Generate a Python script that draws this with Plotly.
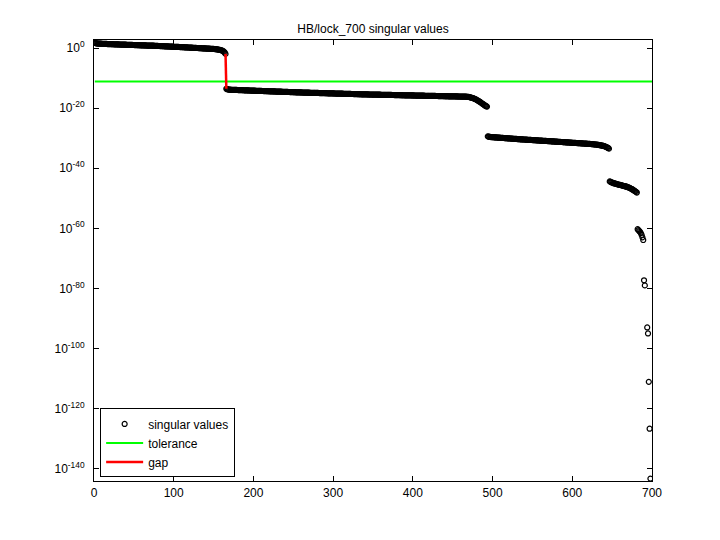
import numpy as np
import plotly.graph_objects as go

# log10 of singular values (index 1..165)
seg1_log = [
    1.70, 1.61, 1.56, 1.52, 1.49, 1.47, 1.46, 1.45, 1.44, 1.42, 1.41, 1.40, 1.39, 1.37, 1.36, 1.35, 1.33,
    1.32, 1.31, 1.30, 1.29, 1.28, 1.27, 1.26, 1.25, 1.24, 1.23,
    1.22, 1.21, 1.20, 1.19, 1.18, 1.17, 1.16, 1.15, 1.14, 1.13,
    1.12, 1.11, 1.10, 1.09, 1.08, 1.07, 1.06, 1.05, 1.04, 1.03,
    1.02, 1.01, 1.00, 0.99, 0.98, 0.97, 0.96, 0.95, 0.94, 0.93,
    0.92, 0.91, 0.90, 0.89, 0.88, 0.87, 0.86, 0.85, 0.84, 0.83,
    0.82, 0.81, 0.80, 0.80, 0.79, 0.78, 0.78, 0.77,
    0.75, 0.74, 0.72, 0.71, 0.70, 0.68, 0.67, 0.66, 0.64, 0.63,
    0.62, 0.60, 0.59, 0.58, 0.56, 0.55, 0.54, 0.52, 0.51, 0.50,
    0.48, 0.47, 0.46, 0.44, 0.43, 0.42, 0.40, 0.39, 0.38, 0.36,
    0.35, 0.34, 0.32, 0.31, 0.30, 0.28, 0.27, 0.26, 0.24, 0.23,
    0.22, 0.20,
    0.18, 0.17, 0.15, 0.14, 0.12, 0.11, 0.09, 0.08, 0.06, 0.04,
    0.03, 0.01, 0.00, -0.02, -0.03, -0.05, -0.06, -0.08, -0.09, -0.11,
    -0.12, -0.14, -0.15, -0.17, -0.18, -0.20, -0.21, -0.23, -0.24, -0.26,
    -0.27, -0.29, -0.31, -0.33,
    -0.36, -0.39, -0.43, -0.47, -0.52, -0.57, -0.63, -0.70, -0.78, -0.88,
    -1.02, -1.22, -1.50, -1.95,
]

# index 166..493
seg2_log = [
    -13.55, -13.70, -13.78, -13.82, -13.85, -13.87, -13.88, -13.90, -13.91, -13.92,
    -13.93, -13.94, -13.95, -13.96, -13.97, -13.98, -13.99, -14.00, -14.01, -14.02,
    -14.03, -14.05, -14.06, -14.07, -14.08, -14.09, -14.10, -14.11, -14.12, -14.13,
    -14.14, -14.16, -14.17, -14.18, -14.19, -14.20, -14.21, -14.22, -14.23, -14.24,
    -14.25, -14.26, -14.27, -14.28, -14.29, -14.30, -14.31, -14.32, -14.33, -14.34,
    -14.35, -14.36, -14.37, -14.38, -14.39, -14.40, -14.41, -14.42, -14.43, -14.44,
    -14.45, -14.46, -14.47, -14.48, -14.49, -14.50, -14.51, -14.52, -14.53, -14.54,
    -14.55, -14.56, -14.57, -14.58, -14.59, -14.60, -14.61, -14.62, -14.63, -14.64,
    -14.65, -14.66, -14.67, -14.68, -14.69, -14.70, -14.71, -14.72, -14.73, -14.74,
    -14.75, -14.76, -14.77, -14.78, -14.79, -14.80, -14.81, -14.82, -14.83, -14.83,
    -14.84, -14.85, -14.86, -14.87, -14.87, -14.88, -14.89, -14.90, -14.91, -14.91,
    -14.92, -14.93, -14.94, -14.95, -14.95, -14.96, -14.97, -14.98, -14.99, -14.99,
    -15.00, -15.01, -15.02, -15.03, -15.03, -15.04, -15.05, -15.06, -15.07, -15.07,
    -15.08, -15.09, -15.10, -15.11, -15.11, -15.12, -15.13, -15.14, -15.15, -15.15,
    -15.16, -15.17, -15.18, -15.19, -15.19, -15.20, -15.21, -15.22, -15.23, -15.23,
    -15.24, -15.25, -15.26, -15.27, -15.27, -15.28, -15.29, -15.30, -15.31, -15.31,
    -15.32, -15.33, -15.34, -15.35, -15.35, -15.36, -15.37, -15.38, -15.39, -15.39,
    -15.40, -15.41, -15.41, -15.42, -15.43, -15.43, -15.44, -15.44, -15.45, -15.46,
    -15.46, -15.47, -15.47, -15.48, -15.49, -15.49, -15.50, -15.50, -15.51, -15.52,
    -15.52, -15.53, -15.53, -15.54, -15.55, -15.55, -15.56, -15.56, -15.57, -15.58,
    -15.58, -15.59, -15.59, -15.60, -15.61, -15.61, -15.62, -15.62, -15.63, -15.64,
    -15.64, -15.65, -15.65, -15.66, -15.67, -15.67, -15.68, -15.68, -15.69, -15.70,
    -15.70, -15.71, -15.71, -15.72, -15.73, -15.73, -15.74, -15.74, -15.75, -15.76,
    -15.76, -15.77, -15.77, -15.78, -15.79, -15.79, -15.80, -15.80, -15.81, -15.82,
    -15.82, -15.83, -15.83, -15.84, -15.85, -15.85, -15.86, -15.86, -15.87, -15.88,
    -15.88, -15.89, -15.89, -15.90, -15.91, -15.91, -15.92, -15.92, -15.93, -15.94,
    -15.94, -15.95, -15.95, -15.96, -15.97, -15.97, -15.98, -15.98, -15.99, -16.00,
    -16.00, -16.01, -16.01, -16.02, -16.03, -16.03, -16.04, -16.04, -16.05, -16.06,
    -16.06, -16.07, -16.07, -16.08, -16.09, -16.09, -16.10, -16.10, -16.11, -16.12,
    -16.12, -16.13, -16.13, -16.14, -16.15, -16.15, -16.16, -16.16, -16.17, -16.18,
    -16.19, -16.20, -16.22, -16.25, -16.29, -16.34, -16.40, -16.47, -16.55, -16.64,
    -16.74, -16.85, -16.97, -17.10, -17.24, -17.39, -17.55, -17.72, -17.90, -18.08,
    -18.27, -18.46, -18.65, -18.84, -19.03, -19.20, -19.36, -19.50,
]

# index 494..646
seg3_log = [
    -29.40, -29.50, -29.56, -29.60, -29.63, -29.65, -29.67, -29.69, -29.71, -29.73,
    -29.75, -29.77, -29.79, -29.81, -29.83, -29.85, -29.87, -29.89, -29.91, -29.93,
    -29.95, -29.97, -29.99, -30.01, -30.03, -30.05, -30.07, -30.09, -30.11, -30.13,
    -30.15, -30.17, -30.19, -30.21, -30.23, -30.25, -30.27, -30.29, -30.31, -30.33,
    -30.35, -30.37, -30.38, -30.40, -30.42, -30.44, -30.45, -30.47, -30.49, -30.51,
    -30.52, -30.54, -30.56, -30.58, -30.59, -30.61, -30.63, -30.65, -30.66, -30.68,
    -30.70, -30.72, -30.73, -30.75, -30.77, -30.79, -30.80, -30.82, -30.84, -30.86,
    -30.87, -30.89, -30.91, -30.93, -30.94, -30.96, -30.98, -31.00, -31.01, -31.03,
    -31.05, -31.07, -31.09, -31.10, -31.12, -31.14, -31.16, -31.18, -31.19, -31.21,
    -31.23, -31.25, -31.27, -31.28, -31.30, -31.32, -31.34, -31.36, -31.37, -31.39,
    -31.41, -31.43, -31.45, -31.46, -31.48, -31.50, -31.52, -31.54, -31.55, -31.57,
    -31.59, -31.61, -31.63, -31.64, -31.66, -31.68, -31.70, -31.72, -31.73, -31.75,
    -31.77, -31.79, -31.81, -31.83, -31.85, -31.87, -31.89, -31.91, -31.93, -31.95,
    -31.97, -32.00, -32.02, -32.05, -32.08, -32.11, -32.14, -32.17, -32.21, -32.25,
    -32.29, -32.34, -32.39, -32.45, -32.51, -32.58, -32.66, -32.75, -32.85, -32.96,
    -33.10, -33.28, -33.50,
]

# index 647..681
seg4_log = [
    -44.40, -44.55, -44.68, -44.80, -44.90, -44.99, -45.07, -45.15, -45.22, -45.29,
    -45.36, -45.43, -45.50, -45.57, -45.64, -45.71, -45.78, -45.85, -45.92, -45.99,
    -46.07, -46.15, -46.24, -46.34, -46.45, -46.57, -46.70, -46.84, -46.99, -47.15,
    -47.32, -47.50, -47.69, -47.89, -48.10,
]

tail_index = [682, 683, 684, 685, 686, 687, 688, 689, 690, 691, 694, 695, 696, 697, 698]
tail_log = [-60.3, -60.6, -60.9, -61.2, -61.6, -62.2, -63.0, -63.9,
            -77.3, -79.0, -93.0, -95.0, -111.1, -126.7, -143.3]

tolerance_log = -11.17
tolerance_x = [1, 700]
gap_x = [165, 166]

sv_index = (list(range(1, 1 + len(seg1_log)))
            + list(range(166, 166 + len(seg2_log)))
            + list(range(494, 494 + len(seg3_log)))
            + list(range(647, 647 + len(seg4_log)))
            + tail_index)
sv_log = seg1_log + seg2_log + seg3_log + seg4_log + tail_log
sv = [10.0 ** v for v in sv_log]

gap_y = [10.0 ** seg1_log[-1], 10.0 ** seg2_log[0]]
tol_y = [10.0 ** tolerance_log] * 2

ytick_exp = [0, -20, -40, -60, -80, -100, -120, -140]
xtick_vals = [0, 100, 200, 300, 400, 500, 600, 700]

FONT = "Liberation Sans, Arial, Helvetica, sans-serif"

# the page body adds an 8px offset; the figure is sized to fill the rest
PAGE_OFFSET = 8
FIG_W = 720 - PAGE_OFFSET
FIG_H = 540 - PAGE_OFFSET

fig = go.Figure()
fig.add_trace(go.Scatter(
    x=sv_index, y=sv, mode="markers", name="singular values",
    marker=dict(symbol="circle-open", size=5, color="black", line=dict(width=1.2, color="black")),
))
fig.add_trace(go.Scatter(
    x=tolerance_x, y=tol_y, mode="lines", name="tolerance",
    line=dict(color="#00ff00", width=2),
))
fig.add_trace(go.Scatter(
    x=gap_x, y=gap_y, mode="lines", name="gap",
    line=dict(color="#ff0000", width=2.5),
))

axis_common = dict(
    showline=True, linecolor="black", linewidth=1, mirror="ticks",
    ticks="inside", ticklen=5, tickcolor="black", tickwidth=1,
    showgrid=False, zeroline=False,
    tickfont=dict(family=FONT, size=12, color="black"),
)

fig.update_xaxes(
    range=[0, 700], tickvals=xtick_vals, ticktext=[str(v) for v in xtick_vals],
    ticklabelstandoff=1, **axis_common,
)
fig.update_yaxes(
    type="log", range=[-144.1, 2.67],
    tickvals=[10.0 ** e for e in ytick_exp],
    ticktext=["10<sup>%d</sup>" % e for e in ytick_exp],
    ticklabelstandoff=6, **axis_common,
)

fig.update_layout(
    width=FIG_W, height=FIG_H,
    margin=dict(l=94 - PAGE_OFFSET, r=68, t=40 - PAGE_OFFSET, b=59),
    paper_bgcolor="white", plot_bgcolor="white",
    font=dict(family=FONT, size=12, color="black"),
    title=dict(text="HB/lock_700 singular values", x=0.5, xref="paper",
               y=1 - (29 - PAGE_OFFSET) / FIG_H, yanchor="middle", xanchor="center",
               font=dict(family=FONT, size=12, color="black")),
    legend=dict(x=0.011, y=0.008, xanchor="left", yanchor="bottom",
                bgcolor="white", bordercolor="black", borderwidth=1,
                font=dict(family=FONT, size=12, color="black"),
                itemwidth=37, tracegroupgap=0),
    showlegend=True,
)

fig.write_html("out.html")
